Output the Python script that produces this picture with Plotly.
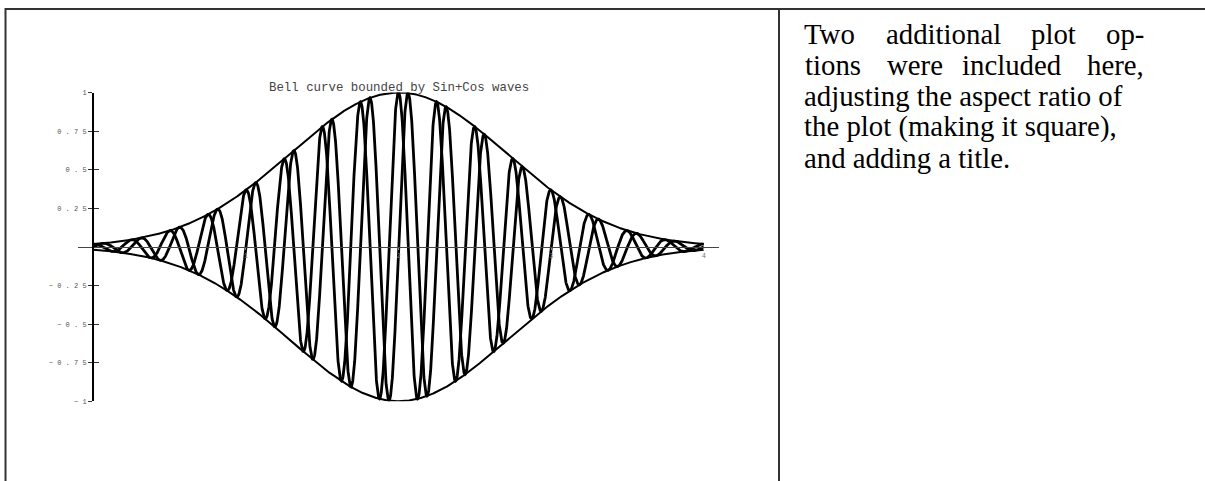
import numpy as np
import plotly.graph_objects as go

# Plot parameters: bell curve centred at 2, modulated by sin/cos of 8*pi*x
x_start, x_end = 0.0, 4.0
bell_center = 2.0
wave_freq = 8 * np.pi
n_samples = 3000

y_tickvals = [1, 0.75, 0.5, 0.25, -0.25, -0.5, -0.75, -1]
y_ticklabels = ["1", "0.75", "0.5", "0.25", "\u22120.25", "\u22120.5", "\u22120.75", "\u22121"]
x_tickvals = [1, 2, 3, 4]
x_ticklabels = ["1", "2", "3", "4"]

title_text = "Bell curve bounded by Sin+Cos waves"

# Justified paragraph on the right: words of each line and their left edges (px)
para_lines = [
    (["Two", "additional", "plot", "op-"], [805, 887, 1032, 1107]),
    (["tions", "were", "included", "here,"], [806, 888, 963, 1088]),
    (["adjusting the aspect ratio of"], [805]),
    (["the plot (making it square),"], [805]),
    (["and adding a title."], [805]),
]
para_top = 31
para_step = 31.3
para_size = 28.8

W, H = 1205, 481


def spaced(s):
    """Widely tracked label text, as in the plot's monospace labels."""
    return " ".join(s)


x = np.linspace(x_start, x_end, n_samples)
bell = np.exp(-(x - bell_center) ** 2)
sin_wave = np.sin(wave_freq * x) * bell
cos_wave = np.cos(wave_freq * x) * bell

fig = go.Figure()
fig.add_trace(go.Scatter(x=x, y=sin_wave, mode="lines",
                         line=dict(color="black", width=2.8)))
fig.add_trace(go.Scatter(x=x, y=cos_wave, mode="lines",
                         line=dict(color="black", width=2.8)))
fig.add_trace(go.Scatter(x=x, y=bell, mode="lines",
                         line=dict(color="black", width=2)))
fig.add_trace(go.Scatter(x=x, y=-bell, mode="lines",
                         line=dict(color="black", width=2)))
# invisible trace on the overlaying y axis so its inside ticks render
fig.add_trace(go.Scatter(x=[0], y=[0], mode="markers", yaxis="y2",
                         marker=dict(opacity=0), hoverinfo="skip"))

# pixel layout of the plot
px_x0, px_x1 = 78, 719          # x axis line extent
px_ytop, px_ybot = 90, 404      # y = 1 and y = -1
px_yaxis = 93                   # x = 0

x_dom = [px_x0 / W, px_x1 / W]
x_rng = [-0.1, 4.1]
y_dom = [1 - px_ybot / H, 1 - px_ytop / H]
y_zero_frac = (y_dom[0] + y_dom[1]) / 2
yaxis_pos = px_yaxis / W

mono = "Courier New, Liberation Mono, monospace"

fig.update_layout(
    width=W, height=H,
    margin=dict(l=0, r=0, t=0, b=0),
    paper_bgcolor="white", plot_bgcolor="white",
    showlegend=False,
    xaxis=dict(domain=x_dom, range=x_rng, anchor="free", position=y_zero_frac,
               showgrid=False, zeroline=False, showline=True,
               linecolor="#444", linewidth=1,
               tickvals=x_tickvals, ticktext=x_ticklabels,
               ticks="outside", ticklen=2, tickcolor="#888", tickwidth=1,
               tickfont=dict(family=mono, size=7, color="#777"),
               fixedrange=True),
    yaxis=dict(domain=y_dom, range=[-1, 1], anchor="free", position=yaxis_pos,
               showgrid=False, zeroline=False, showline=True,
               linecolor="black", linewidth=2,
               tickvals=y_tickvals, ticktext=[spaced(t) for t in y_ticklabels],
               ticks="outside", ticklen=4, tickcolor="#333", tickwidth=1,
               tickfont=dict(family=mono, size=7, color="#555"),
               fixedrange=True),
    yaxis2=dict(domain=y_dom, range=[-1, 1], overlaying="y", anchor="free",
                position=yaxis_pos, showgrid=False, zeroline=False,
                showline=False, tickvals=y_tickvals, showticklabels=False,
                ticks="inside", ticklen=5, tickcolor="#333", tickwidth=1,
                fixedrange=True),
)

# plot title, centred over the bell peak
title_px_x = px_x0 + (bell_center - x_rng[0]) / (x_rng[1] - x_rng[0]) * (px_x1 - px_x0)
fig.add_annotation(x=title_px_x / W, y=1 - 85 / H, xref="paper", yref="paper",
                   text=title_text, showarrow=False,
                   xanchor="center", yanchor="middle",
                   font=dict(family=mono, size=12.4, color="#444"))

# frame and divider
fig.add_shape(type="rect", xref="paper", yref="paper",
              x0=5.5 / W, x1=1.05, y0=-0.05, y1=1 - 5 / H,
              line=dict(color="#333", width=2))
fig.add_shape(type="line", xref="paper", yref="paper",
              x0=779 / W, x1=779 / W, y0=-0.05, y1=1 - 5 / H,
              line=dict(color="#333", width=2))

serif = "Liberation Serif"
for i, (words, xs) in enumerate(para_lines):
    yc = para_top + i * para_step
    for word, xp in zip(words, xs):
        fig.add_annotation(x=(xp - 3) / W, y=1 - yc / H, xref="paper", yref="paper",
                           text=word, showarrow=False,
                           xanchor="left", yanchor="middle",
                           font=dict(family=serif, size=para_size, color="black"))

fig.write_html("out.html")
